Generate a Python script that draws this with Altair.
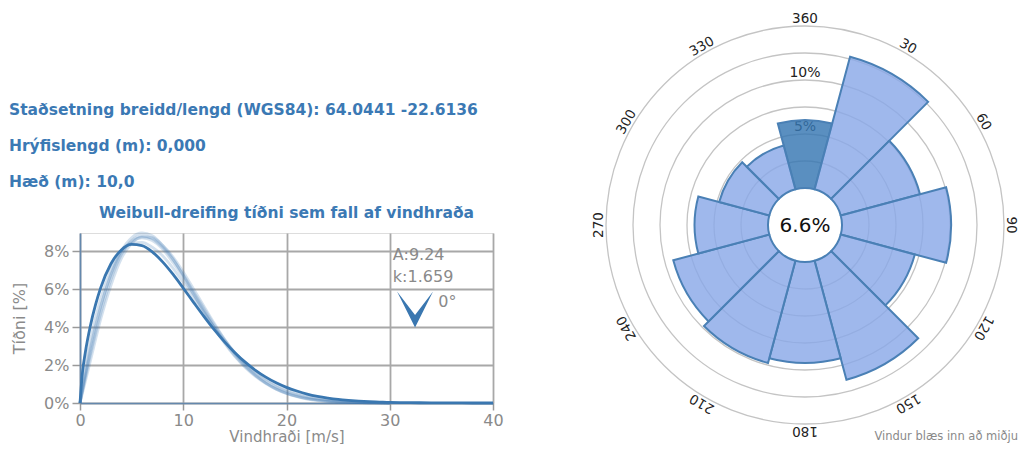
import altair as alt
import pandas as pd

# ---------------- data: Weibull panel ----------------
main_v = [0, 0.25, 0.5, 1, 1.5, 2, 3, 4, 5, 6, 7, 8, 9, 10, 11, 12, 13, 14, 15, 16, 17, 18, 19,
          20, 21, 22, 23, 24, 25, 26, 27, 28, 29, 30, 32, 34, 36, 38, 40]
main_f = [0, 1.66, 2.61, 4.05, 5.16, 6.06, 7.33, 8.06, 8.35, 8.29, 7.96, 7.43, 6.78, 6.05, 5.30,
          4.56, 3.86, 3.22, 2.65, 2.15, 1.72, 1.36, 1.06, 0.82, 0.63, 0.47, 0.35, 0.26, 0.19,
          0.14, 0.10, 0.07, 0.05, 0.03, 0.016, 0.008, 0.003, 0.001, 0]

light_v = [0, 1, 2, 3, 4, 5, 6, 7, 8, 9, 10, 11, 12, 13, 14, 15, 16, 17, 18, 19, 20,
           21, 22, 23, 24, 25, 26, 27, 28, 29, 30]
light_1 = [0, 2.9, 5.1, 6.7, 7.9, 8.55, 8.8, 8.65, 8.2, 7.55, 6.75, 5.85, 4.98, 4.12, 3.34, 2.65,
           2.06, 1.57, 1.17, 0.86, 0.62, 0.44, 0.30, 0.20, 0.14, 0.09, 0.06, 0.03, 0.02, 0.01, 0]
light_2 = [0, 2.5, 4.7, 6.5, 7.8, 8.5, 8.7, 8.55, 8.1, 7.4, 6.6, 5.7, 4.8, 3.95, 3.15, 2.45,
           1.87, 1.4, 1.02, 0.73, 0.51, 0.35, 0.23, 0.15, 0.09, 0.06, 0.03, 0.02, 0.01, 0.01, 0]
light_3 = [0, 2.7, 5.0, 6.8, 8.0, 8.7, 8.95, 8.8, 8.3, 7.6, 6.7, 5.75, 4.85, 3.98, 3.2, 2.5,
           1.92, 1.44, 1.06, 0.76, 0.53, 0.36, 0.24, 0.16, 0.1, 0.06, 0.04, 0.02, 0.01, 0.01, 0]
light_4 = [0, 3.3, 5.5, 7.0, 8.0, 8.4, 8.45, 8.2, 7.75, 7.1, 6.35, 5.55, 4.75, 3.98, 3.28, 2.65,
           2.1, 1.64, 1.25, 0.94, 0.69, 0.5, 0.35, 0.24, 0.16, 0.11, 0.07, 0.04, 0.03, 0.02, 0]
light_5 = [0, 2.2, 4.4, 6.2, 7.6, 8.4, 8.75, 8.7, 8.3, 7.7, 6.9, 6.0, 5.1, 4.2, 3.35, 2.6,
           1.97, 1.46, 1.05, 0.73, 0.5, 0.33, 0.21, 0.13, 0.08, 0.05, 0.03, 0.02, 0.01, 0, 0]
light_curves = [light_1, light_2, light_3, light_4, light_5]

weibull_A = "A:9.24"
weibull_k = "k:1.659"
wind_dir_label = "0°"

info_lines = ["Staðsetning breidd/lengd (WGS84): 64.0441 -22.6136",
              "Hrýfislengd (m): 0,000",
              "Hæð (m): 10,0"]
weibull_title = "Weibull-dreifing tíðni sem fall af vindhraða"
x_title = "Vindhraði [m/s]"
y_title = "Tíðni [%]"
x_ticks = [0, 10, 20, 30, 40]
y_ticks = [0, 2, 4, 6, 8]

# ---------------- data: wind rose ----------------
directions = [0, 30, 60, 90, 120, 150, 180, 210, 240, 270, 300, 330]
frequency = [6.3, 12.7, 7.6, 10.1, 7.1, 11.4, 9.35, 9.8, 9.2, 6.8, 4.8, 4.2]
grid_levels = [2.5, 5, 7.5, 10, 12.5, 15]
radial_label_values = [5, 10]
radial_label_texts = ["5%", "10%"]
dir_label_values = [360, 30, 60, 90, 120, 150, 180, 210, 240, 270, 300, 330]
calm_text = "6.6%"
note_text = "Vindur blæs inn að miðju"

# ---------------- styling ----------------
BLUE = "#3a77b0"
TEXT_BLUE = "#3b79b4"
GREY = "#8a8a8a"
FONT = "DejaVu Sans"

X = alt.Scale(domain=[0, 40], nice=False, zero=False)
Y = alt.Scale(domain=[0, 8.95], nice=False)

common_axis = dict(grid=True, gridColor="#a8a8a8", gridWidth=1.8,
                   domainColor="#6488ad", domainWidth=1.6, tickColor="#9a9a9a",
                   tickWidth=1.5, labelColor=GREY, titleColor=GREY, labelFontSize=16,
                   titleFontWeight="normal", labelFont=FONT, titleFont=FONT)
xaxis = alt.Axis(values=x_ticks, title=x_title, tickSize=7, labelPadding=2, titlePadding=1,
                 titleFontSize=15, labelFlush=False, **common_axis)
yaxis = alt.Axis(values=y_ticks, title=y_title, tickSize=8, labelPadding=3, titlePadding=16,
                 titleFontSize=16, labelExpr="datum.value + '%'", **common_axis)

df_main = pd.DataFrame({"v": main_v, "f": main_f})
rows = []
for i, ys in enumerate(light_curves):
    for v, f in zip(light_v, ys):
        rows.append({"v": v, "f": f, "c": i})
df_light = pd.DataFrame(rows)

light = alt.Chart(df_light).mark_line(color=BLUE, strokeWidth=2.8, opacity=0.22,
                                      interpolate="monotone").encode(
    x=alt.X("v:Q", scale=X, axis=xaxis),
    y=alt.Y("f:Q", scale=Y, axis=yaxis),
    detail="c:N")
main = alt.Chart(df_main).mark_line(color=BLUE, strokeWidth=2.8, interpolate="monotone").encode(
    x=alt.X("v:Q", scale=X), y=alt.Y("f:Q", scale=Y))

arrow = alt.Chart(pd.DataFrame({"v": [32.45], "f": [4.92]})).mark_point(
    shape="M-1,-1L0,0.3L1,-1L0,1Z", filled=True, size=1296, color=BLUE, opacity=1).encode(
    x=alt.X("v:Q", scale=X), y=alt.Y("f:Q", scale=Y))

ann_df = pd.DataFrame({"v": [30.3, 30.3, 34.7], "f": [7.8, 6.63, 5.3],
                       "t": [weibull_A, weibull_k, wind_dir_label]})
ann = alt.Chart(ann_df).mark_text(align="left", baseline="middle", fontSize=16, color=GREY,
                                  font=FONT).encode(
    x=alt.X("v:Q", scale=X), y=alt.Y("f:Q", scale=Y), text="t:N")

# header texts (pixel positions relative to plot origin)
info_y = [-123, -87, -51]
headers = []
for line, yy in zip(info_lines, info_y):
    headers.append(alt.Chart(pd.DataFrame({"t": [line]})).mark_text(
        align="left", baseline="middle", fontSize=15.5, fontWeight="bold", color=TEXT_BLUE,
        font=FONT).encode(x=alt.value(-71), y=alt.value(yy), text="t:N"))
title = alt.Chart(pd.DataFrame({"t": [weibull_title]})).mark_text(
    align="center", baseline="middle", fontSize=15.5, fontWeight="bold", color=TEXT_BLUE,
    font=FONT).encode(x=alt.value(206.5), y=alt.value(-20), text="t:N")

# ---------------- wind rose ----------------
CX, CY = 725, -8
TH = alt.Scale(domain=[0, 360], range=[0, 6.283185307179586])
R = alt.Scale(type="linear", domain=[0, 15], range=[37, 199], zero=False, nice=False)

grid_df = pd.DataFrame({"g": grid_levels})
grid_df["a0"] = 0
grid_df["a1"] = 360
grid = alt.Chart(grid_df).mark_arc(
    fillOpacity=0, stroke="#c4c4c4", strokeWidth=1.3).encode(
    x=alt.value(CX), y=alt.value(CY),
    theta=alt.Theta("a0:Q", scale=TH, stack=False), theta2="a1:Q",
    radius=alt.Radius("g:Q", scale=R), radius2="g:Q")

rlab = alt.Chart(pd.DataFrame({"rv": radial_label_values, "t": radial_label_texts})).mark_text(
    fontSize=14, color="#222222", baseline="middle", dy=-7, font=FONT).encode(
    x=alt.value(CX), y=alt.value(CY), theta=alt.value(0),
    radius=alt.Radius("rv:Q", scale=R), text="t:N")

bars_df = pd.DataFrame({"dir": directions, "r": frequency})
bars_df["t0"] = bars_df["dir"] - 15
bars_df["t1"] = bars_df["dir"] + 15
bars = alt.Chart(bars_df).mark_arc(stroke="#4a80b5", strokeWidth=2, fillOpacity=0.82).encode(
    x=alt.value(CX), y=alt.value(CY),
    theta=alt.Theta("t0:Q", scale=TH, stack=False), theta2="t1:Q",
    radius=alt.Radius("r:Q", scale=R), radius2=alt.value(37),
    color=alt.condition("datum.dir == 0", alt.value("#3676b2"), alt.value("#8aa8e8")))

dlab_df = pd.DataFrame({"d": dir_label_values, "t": [str(d) for d in dir_label_values]})
dlab = alt.Chart(dlab_df).mark_text(fontSize=13.5, color="#222222", baseline="middle",
                                    font=FONT).encode(
    x=alt.value(CX), y=alt.value(CY),
    theta=alt.Theta("d:Q", scale=TH, stack=False), radius=alt.value(206),
    angle=alt.Angle("d:Q", scale=None), text="t:N")

calm = alt.Chart(pd.DataFrame({"t": [calm_text]})).mark_text(
    fontSize=20, color="#111111", baseline="middle", font=FONT).encode(
    x=alt.value(CX), y=alt.value(CY + 1), text="t:N")

note = alt.Chart(pd.DataFrame({"t": [note_text]})).mark_text(
    fontSize=11.5, color=GREY, align="right", baseline="middle", font=FONT).encode(
    x=alt.value(938), y=alt.value(204), text="t:N")

chart = alt.layer(light, main, arrow, ann, title, *headers, grid, rlab, bars, dlab, calm, note
                  ).properties(
    width=413, height=170,
    autosize=alt.AutoSizeParams(type="none"),
    padding={"left": 72, "top": 225, "right": 527, "bottom": 41},
).configure_view(stroke=None).configure(font=FONT)

chart.save("out.html", embed_options={"renderer": "svg", "actions": False})
